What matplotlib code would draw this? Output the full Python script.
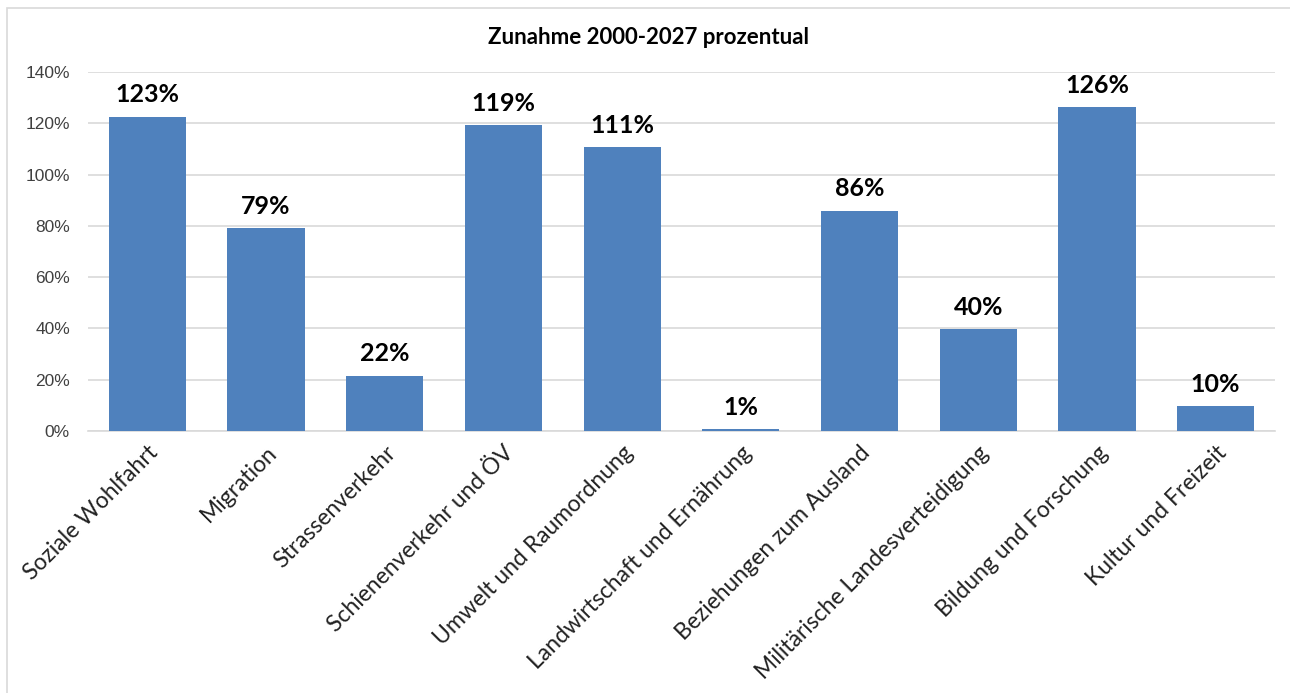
import matplotlib.pyplot as plt
from matplotlib.patches import Rectangle

categories = [
    "Soziale Wohlfahrt",
    "Migration",
    "Strassenverkehr",
    "Schienenverkehr und ÖV",
    "Umwelt und Raumordnung",
    "Landwirtschaft und Ernährung",
    "Beziehungen zum Ausland",
    "Militärische Landesverteidigung",
    "Bildung und Forschung",
    "Kultur und Freizeit",
]
values = [122.6, 79.0, 21.6, 119.3, 110.7, 0.6, 85.9, 39.7, 126.3, 9.8]
labels = ["123%", "79%", "22%", "119%", "111%", "1%", "86%", "40%", "126%", "10%"]
yticks = [0, 20, 40, 60, 80, 100, 120, 140]

W, H = 1290, 693
fig = plt.figure(figsize=(W / 100, H / 100), dpi=100)
ax = fig.add_axes([88 / W, 1 - 431 / H, (1275 - 88) / W, (431 - 72) / H])

font = ["Lato", "DejaVu Sans"]

x = range(len(categories))
ax.bar(x, values, width=0.65, color="#4F81BD", zorder=3)
for i, (v, lab) in enumerate(zip(values, labels)):
    ax.text(i, v + 4, lab, ha="center", va="bottom", fontsize=18,
            fontweight="bold", family=font, zorder=4)

ax.set_xlim(-0.5, len(categories) - 0.5)
ax.set_ylim(0, 140)
ax.set_yticks(yticks)
ax.set_yticklabels([f"{t}%" for t in yticks], family="Liberation Sans",
                   fontsize=12.5, color="#404040")
ax.set_xticks(list(x))
ax.set_xticklabels(categories, rotation=45, ha="right", rotation_mode="anchor",
                   fontsize=16.5, family=font, color="#222222")
ax.tick_params(axis="both", length=0)
ax.tick_params(axis="y", pad=13)
ax.tick_params(axis="x", pad=8)
ax.grid(axis="y", color="#D9D9D9", linewidth=1.2, zorder=0)
for s in ["top", "right", "left"]:
    ax.spines[s].set_visible(False)
ax.spines["bottom"].set_color("#D9D9D9")
ax.spines["bottom"].set_linewidth(1.2)

fig.text(648 / W, 1 - 38 / H, "Zunahme 2000-2027 prozentual", ha="center",
         va="center", fontsize=16, fontweight="bold", family=font)

fig.patches.append(Rectangle((7 / W, -0.1), 1.2, 1 - 8 / H + 0.1,
                             transform=fig.transFigure, fill=False,
                             edgecolor="#D9D9D9", linewidth=1.2))

fig.savefig("out.png", dpi=100)
